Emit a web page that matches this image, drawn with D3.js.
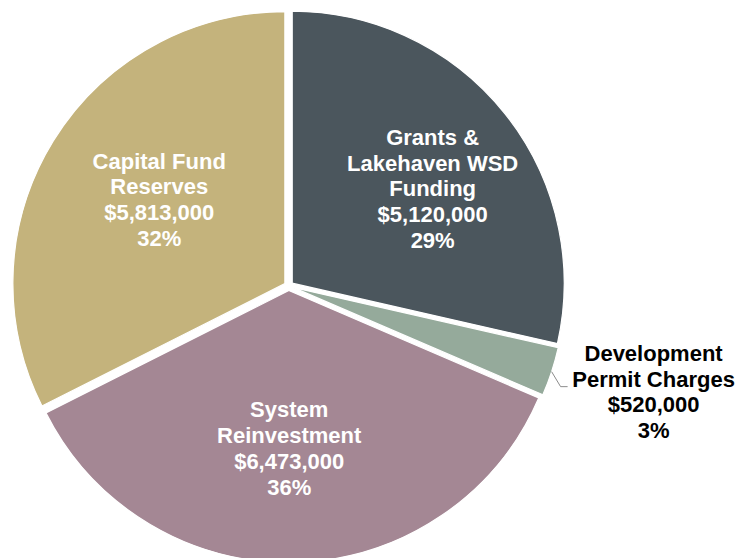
<!DOCTYPE html>
<html>
<head>
<meta charset="utf-8">
<script src="https://cdn.jsdelivr.net/npm/d3@7/dist/d3.min.js"></script>
<style>
  html, body { margin: 0; padding: 0; background: #ffffff; }
  svg { display: block; }
  text { font-family: "Liberation Sans", Arial, sans-serif; font-weight: bold; }
</style>
</head>
<body>
<svg id="chart" width="736" height="558"></svg>
<script>
// Funding sources (dollars), in clockwise order from 12 o'clock
const categories = ["Grants & Lakehaven WSD Funding", "Development Permit Charges", "System Reinvestment", "Capital Fund Reserves"];
const values = [5120000, 520000, 6473000, 5813000];
const labelLines = [
  ["Grants &", "Lakehaven WSD", "Funding", "$5,120,000", "29%"],
  ["Development", "Permit Charges", "$520,000", "3%"],
  ["System", "Reinvestment", "$6,473,000", "36%"],
  ["Capital Fund", "Reserves", "$5,813,000", "32%"]
];
const colors = ["#4b565d", "#95aa9b", "#a48794", "#c4b37c"];

const width = 736, height = 558;
const cx = 288.7, cy = 286, radius = 272, explode = 4.5;
const fontSize = 22, lineH = 25.8;

const svg = d3.select("#chart");
const g = svg.append("g").attr("transform", `translate(${cx},${cy})`);

const pie = d3.pie().sort(null).value(d => d.value);
const arcs = pie(categories.map((c, i) => ({ name: c, value: values[i], i })));

const arc = d3.arc().innerRadius(0).outerRadius(radius);
const labelArc = d3.arc().innerRadius(165).outerRadius(165);

const offsetOf = d => {
  const a = (d.startAngle + d.endAngle) / 2;
  return [Math.sin(a) * explode, -Math.cos(a) * explode];
};

// Slices, each pushed slightly outward from the centre
g.selectAll("path.slice")
  .data(arcs)
  .join("path")
  .attr("class", "slice")
  .attr("d", arc)
  .attr("fill", d => colors[d.data.i])
  .attr("stroke", "#ffffff")
  .attr("stroke-width", 1.2)
  .attr("transform", d => `translate(${offsetOf(d)})`);

// Multi-line label block, vertically centred on (x, y)
function drawLabel(x, y, lines, fill) {
  const capH = fontSize * 0.716;
  const y0 = y - (lines.length - 1) * lineH / 2 + capH / 2;
  const t = g.append("text")
    .attr("text-anchor", "middle")
    .attr("font-size", fontSize)
    .attr("fill", fill);
  lines.forEach((s, k) => {
    t.append("tspan").attr("x", x).attr("y", y0 + k * lineH).text(s);
  });
}

// Inside labels: centroid on a ring plus a small nudge
const nudges = [[15, 5.5], null, [-4.5, -3], [11, 0]];
arcs.forEach(d => {
  const i = d.data.i;
  if (!nudges[i]) return;
  const [lx, ly] = labelArc.centroid(d);
  drawLabel(lx + nudges[i][0], ly + nudges[i][1], labelLines[i], "#ffffff");
});

// Outside label for the small slice, with a leader line
const dev = arcs[1];
const mid = (dev.startAngle + dev.endAngle) / 2;
const [ox, oy] = offsetOf(dev);
const p0 = [Math.sin(mid) * radius + ox, -Math.cos(mid) * radius + oy];
const p1 = [p0[0] + 9, p0[1] + 15];
const p2 = [p1[0] + 7, p1[1]];
g.append("polyline")
  .attr("points", [p0, p1, p2].map(p => p.join(",")).join(" "))
  .attr("fill", "none")
  .attr("stroke", "#8c8c8c")
  .attr("stroke-width", 1);
drawLabel(p2[0] + 86, p2[1] + 5, labelLines[1], "#000000");
</script>
</body>
</html>
